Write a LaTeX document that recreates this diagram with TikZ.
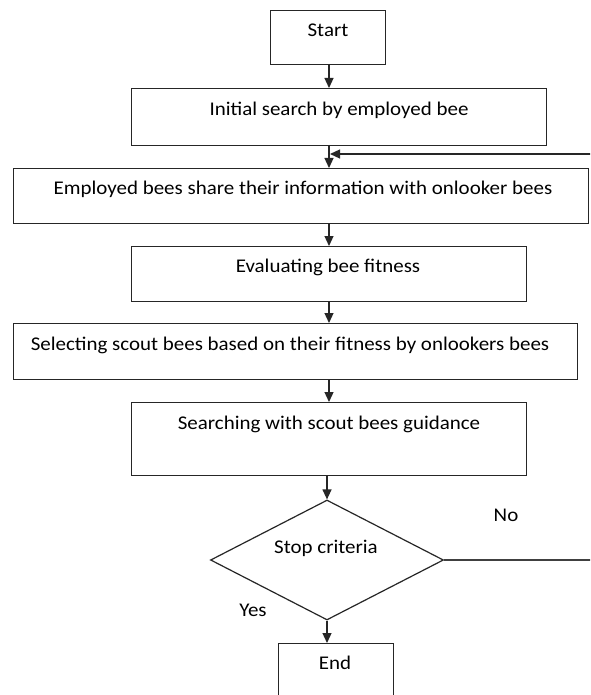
\documentclass[tikz,border=0pt]{standalone}
\usepackage{fontspec}
\setmainfont{Carlito}[FakeStretch=1.08]
\usetikzlibrary{shapes.geometric,arrows.meta}
\begin{document}
\begin{tikzpicture}[x=1pt,y=-1pt,
  box/.style={draw=black!85, line width=1.2pt, rectangle, inner sep=0pt, anchor=north west},
  lbl/.style={font=\fontsize{19.4}{22}\selectfont, inner sep=0pt},
  flow/.style={draw=black!85, line width=1.2pt, -{Triangle[length=10pt,width=9pt]}},
  plain/.style={draw=black!75, line width=1.6pt}]
\clip (0,0) rectangle (590,695);
\fill[white] (0,0) rectangle (590,695);

% process boxes
\node[box, minimum width=115pt, minimum height=54pt] (start) at (270,10) {};
\node[box, minimum width=415pt, minimum height=57pt] (init) at (131,88) {};
\node[box, minimum width=575pt, minimum height=55pt] (share) at (13,168) {};
\node[box, minimum width=395pt, minimum height=55pt] (eval) at (131,246) {};
\node[box, minimum width=564pt, minimum height=56pt] (select) at (13,323) {};
\node[box, minimum width=395pt, minimum height=73pt] (search) at (131,402) {};
\node[draw=black!85, line width=1.2pt, diamond, inner sep=0pt, aspect=1.94,
      minimum width=233pt, minimum height=120pt] (stop) at (327,560) {};
\node[box, minimum width=115pt, minimum height=70pt] (end) at (278,643) {};

% texts
\node[lbl] (tstart) at (328,30) {Start};
\node[lbl] (tinit) at (339,110) {Initial search by employed bee};
\node[lbl] (tshare) at (303,189) {Employed bees share their information with onlooker bees};
\node[lbl] (teval) at (328,267) {Evaluating bee fitness};
\node[lbl] (tselect) at (290,345) {Selecting scout bees based on their fitness by onlookers bees};
\node[lbl] (tsearch) at (329,424) {Searching with scout bees guidance};
\node[lbl] (tstop) at (326,548) {Stop criteria};
\node[lbl] (tend) at (335,663) {End};
\node[lbl] (tno) at (506,515) {No};
\node[lbl] (tyes) at (253,610) {Yes};

% connectors
\draw[flow] (329,64) -- (329,88);
\draw[flow] (329,145) -- (329,168);
\draw[flow] (329,223) -- (329,246);
\draw[flow] (329,301) -- (329,323);
\draw[flow] (329,379) -- (329,402);
\draw[flow] (stop.north |- search.south) -- (stop.north);
\draw[flow] (stop.south) -- (stop.south |- end.north);

% loop-back from the stop test
\coordinate (fbin) at (600,154);
\coordinate (fbtip) at (330,154);
\draw[flow] (fbin) -- (fbtip);
\coordinate (noout) at (600,560);
\draw[plain] (stop.east) -- (noout);
\end{tikzpicture}
\end{document}
